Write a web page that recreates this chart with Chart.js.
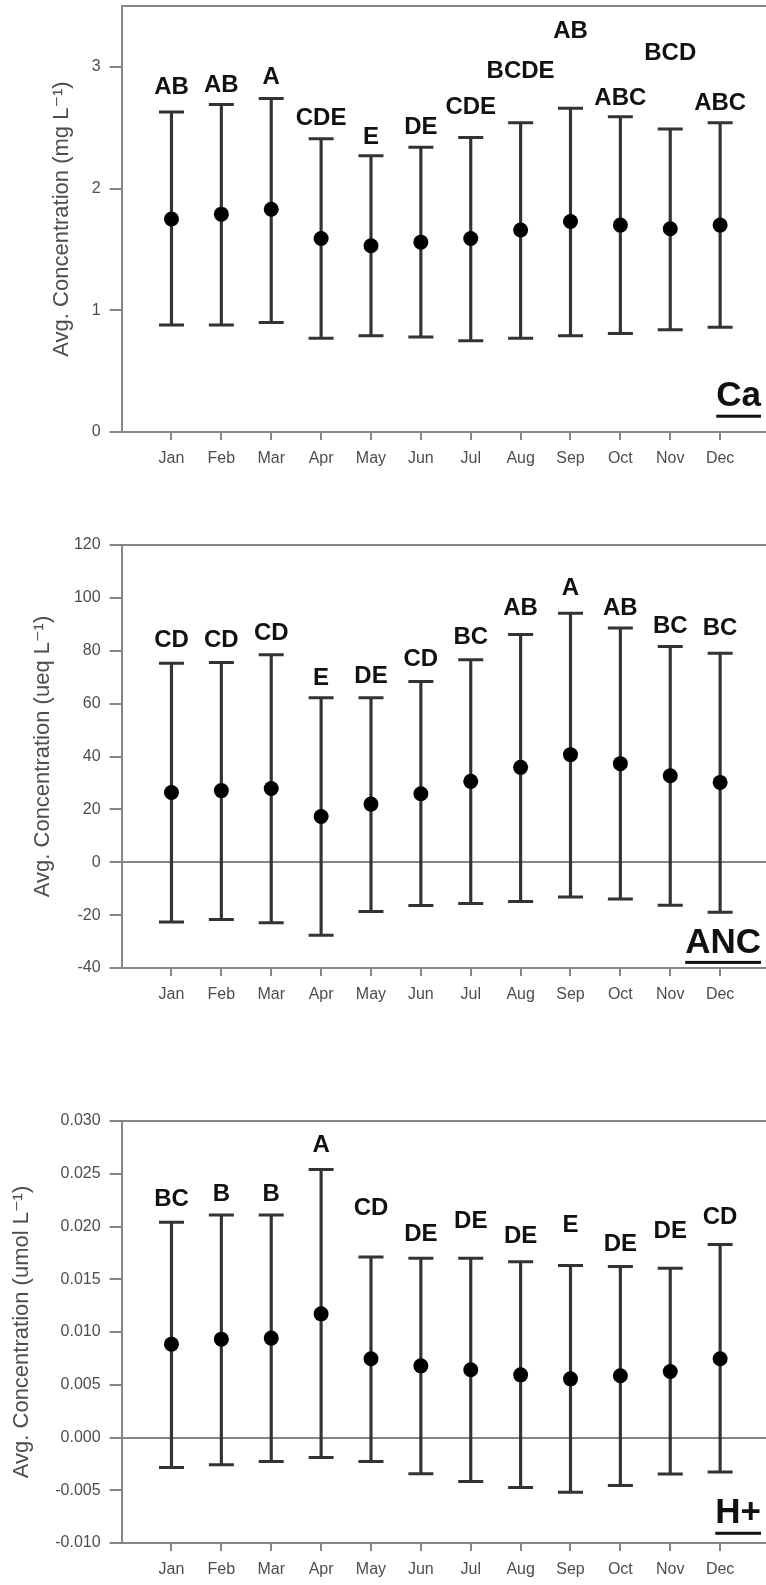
<!DOCTYPE html>
<html>
<head>
<meta charset="utf-8">
<title>Monthly average concentrations</title>
<script src="https://cdn.jsdelivr.net/npm/chart.js@4.4.1/dist/chart.umd.min.js"></script>
<style>
  body { margin: 0; background: #fff; width: 766px; height: 1585px; overflow: hidden; position: relative; }
  .panel { position: absolute; left: 0; }
</style>
</head>
<body>
<div class="panel" style="top:0px"><canvas id="caChart" width="780" height="480"></canvas></div>
<div class="panel" style="top:533px"><canvas id="ancChart" width="780" height="483"></canvas></div>
<div class="panel" style="top:1109px"><canvas id="hChart" width="780" height="482"></canvas></div>
<script>
const months = ["Jan", "Feb", "Mar", "Apr", "May", "Jun", "Jul", "Aug", "Sep", "Oct", "Nov", "Dec"];

// Ca (mg/L)
const caMean  = [1.75, 1.79, 1.83, 1.59, 1.53, 1.56, 1.59, 1.66, 1.73, 1.70, 1.67, 1.70];
const caUpper = [2.63, 2.69, 2.74, 2.41, 2.27, 2.34, 2.42, 2.54, 2.66, 2.59, 2.49, 2.54];
const caLower = [0.88, 0.88, 0.90, 0.77, 0.79, 0.78, 0.75, 0.77, 0.79, 0.81, 0.84, 0.86];
const caGroups = ["AB", "AB", "A", "CDE", "E", "DE", "CDE", "BCDE", "AB", "ABC", "BCD", "ABC"];
const caGroupAt = [2.83, 2.85, 2.91, 2.575, 2.42, 2.50, 2.67, 2.96, 3.29, 2.74, 3.11, 2.70];
const caTicks = [0, 1, 2, 3];

// ANC (ueq/L)
const ancMean  = [26.4, 27.1, 27.9, 17.3, 22.0, 25.9, 30.6, 35.9, 40.7, 37.3, 32.7, 30.2];
const ancUpper = [75.3, 75.6, 78.5, 62.2, 62.2, 68.4, 76.6, 86.1, 94.2, 88.6, 81.6, 79.1];
const ancLower = [-22.6, -21.7, -22.9, -27.6, -18.6, -16.4, -15.6, -14.8, -13.1, -13.9, -16.3, -18.9];
const ancGroups = ["CD", "CD", "CD", "E", "DE", "CD", "BC", "AB", "A", "AB", "BC", "BC"];
const ancGroupAt = [84.1, 84.1, 86.4, 69.7, 70.3, 76.6, 85.2, 95.9, 103.7, 95.9, 89.2, 88.6];
const ancTicks = [-40, -20, 0, 20, 40, 60, 80, 100, 120];

// H+ (umol/L)
const hMean  = [0.00885, 0.00932, 0.00942, 0.01172, 0.00746, 0.00679, 0.00642, 0.00594, 0.00556, 0.00585, 0.00625, 0.00746];
const hUpper = [0.0204, 0.0211, 0.0211, 0.0254, 0.0171, 0.0170, 0.0170, 0.01665, 0.0163, 0.0162, 0.01605, 0.0183];
const hLower = [-0.00284, -0.00259, -0.00227, -0.0019, -0.00227, -0.00344, -0.00417, -0.00474, -0.00518, -0.00455, -0.00347, -0.00328];
const hGroups = ["BC", "B", "B", "A", "CD", "DE", "DE", "DE", "E", "DE", "DE", "CD"];
const hGroupAt = [0.0226, 0.0230, 0.0230, 0.0277, 0.0217, 0.0193, 0.0205, 0.0191, 0.0201, 0.0183, 0.0195, 0.0209];
const hTicks = [-0.010, -0.005, 0.000, 0.005, 0.010, 0.015, 0.020, 0.025, 0.030];

const FONT = '"Liberation Sans", Arial, "DejaVu Sans", sans-serif';
const AXIS = "#858585";
const LABEL = "#4d4d4d";
const STEM = "#333333";

// Significance letters over each month, plus the underlined panel tag
const groupLetters = {
    id: "groupLetters",
    afterDatasetsDraw(chart, args, opts) {
        const ctx = chart.ctx;
        const x = chart.scales.x;
        const y = chart.scales.y;
        ctx.save();
        ctx.fillStyle = "#111";
        ctx.textAlign = "center";
        ctx.textBaseline = "middle";
        ctx.font = "bold 24px " + FONT;
        opts.groups.forEach((txt, i) => {
            ctx.fillText(txt, x.getPixelForValue(i + 1), y.getPixelForValue(opts.groupAt[i]));
        });

        ctx.font = "bold 35px " + FONT;
        ctx.textAlign = "right";
        const right = chart.chartArea.right - 9;
        const ty = y.getPixelForValue(opts.tagAt);
        ctx.fillText(opts.tag, right, ty);
        const w = ctx.measureText(opts.tag).width;
        ctx.fillRect(right - w, ty + 18, w, 3);
        ctx.restore();
    }
};

// keep the plot area fixed: axes get a set size and no label overhang padding
function fixedSize(prop, size) {
    return s => {
        s[prop] = size;
        s.paddingTop = 0;
        s.paddingBottom = 0;
        s.paddingLeft = 0;
        s.paddingRight = 0;
    };
}

function makePanel(id, p) {
    const means = p.mean.map((v, i) => ({ x: i + 1, y: v }));
    const caps = p.upper.map((v, i) => ({ x: i + 1, y: v }))
        .concat(p.lower.map((v, i) => ({ x: i + 1, y: v })));
    const stems = p.upper.map((v, i) => ({ x: i + 1, y: [p.lower[i], v] }));

    new Chart(document.getElementById(id), {
        type: "scatter",
        data: {
            datasets: [
                {
                    data: means,
                    pointStyle: "circle",
                    pointRadius: 7.5,
                    pointBackgroundColor: "#000",
                    pointBorderWidth: 0,
                    order: 1
                },
                {
                    data: caps,
                    pointStyle: "line",
                    pointRadius: 12.5,
                    pointBorderColor: STEM,
                    pointBorderWidth: 3,
                    order: 2
                },
                {
                    type: "bar",
                    data: stems,
                    backgroundColor: STEM,
                    borderWidth: 0,
                    barThickness: 2.5,
                    order: 3
                }
            ]
        },
        options: {
            responsive: false,
            animation: false,
            events: [],
            layout: { autoPadding: false, padding: { top: p.padTop, right: 10, left: 0, bottom: 0 } },
            plugins: {
                legend: { display: false },
                tooltip: { enabled: false },
                groupLetters: { groups: p.groups, groupAt: p.groupAt, tag: p.tag, tagAt: p.tagAt }
            },
            scales: {
                x: {
                    type: "linear",
                    min: 0,
                    max: 13,
                    offset: false,
                    afterBuildTicks: s => { s.ticks = months.map((m, i) => ({ value: i + 1 })); },
                    afterFit: fixedSize("height", 48),
                    ticks: {
                        callback: v => months[v - 1],
                        color: LABEL,
                        font: { family: FONT, size: 16 },
                        padding: 9,
                        autoSkip: false,
                        maxRotation: 0
                    },
                    grid: { offset: false, drawOnChartArea: false, color: AXIS, tickLength: 8, lineWidth: 2 },
                    border: { color: AXIS, width: 2 }
                },
                top: {
                    type: "linear",
                    position: "top",
                    min: 0,
                    max: 13,
                    offset: false,
                    afterFit: fixedSize("height", 0),
                    ticks: { display: false },
                    grid: { display: false, drawTicks: false },
                    border: { color: AXIS, width: 2 }
                },
                y: {
                    type: "linear",
                    min: p.min,
                    max: p.max,
                    afterBuildTicks: s => { s.ticks = p.ticks.map(v => ({ value: v })); },
                    afterFit: fixedSize("width", 121.6),
                    ticks: {
                        callback: p.format,
                        color: LABEL,
                        font: { family: FONT, size: 16 },
                        padding: 9
                    },
                    grid: {
                        color: c => (c.tick && Math.abs(c.tick.value) < 1e-12) ? AXIS : "rgba(0,0,0,0)",
                        tickColor: AXIS,
                        tickLength: 12,
                        lineWidth: 2
                    },
                    border: { color: AXIS, width: 2 },
                    title: {
                        display: true,
                        text: p.title,
                        color: LABEL,
                        font: { family: FONT, size: 22 },
                        padding: { top: p.titlePad, bottom: 0 }
                    }
                }
            }
        },
        plugins: [groupLetters]
    });
}

makePanel("caChart", {
    mean: caMean, upper: caUpper, lower: caLower,
    groups: caGroups, groupAt: caGroupAt,
    min: 0, max: 3.5, ticks: caTicks,
    format: v => String(v),
    title: "Avg. Concentration (mg L\u207B\u00B9)", titlePad: 48.5,
    tag: "Ca", tagAt: 0.29, padTop: 6
});

makePanel("ancChart", {
    mean: ancMean, upper: ancUpper, lower: ancLower,
    groups: ancGroups, groupAt: ancGroupAt,
    min: -40, max: 120, ticks: ancTicks,
    format: v => String(v),
    title: "Avg. Concentration (ueq L\u207B\u00B9)", titlePad: 29.5,
    tag: "ANC", tagAt: -30.5, padTop: 12
});

makePanel("hChart", {
    mean: hMean, upper: hUpper, lower: hLower,
    groups: hGroups, groupAt: hGroupAt,
    min: -0.010, max: 0.030, ticks: hTicks,
    format: v => (Math.abs(v) < 1e-12 ? 0 : v).toFixed(3),
    title: "Avg. Concentration (umol L\u207B\u00B9)", titlePad: 8.5,
    tag: "H+", tagAt: -0.00723, padTop: 12
});
</script>
</body>
</html>
